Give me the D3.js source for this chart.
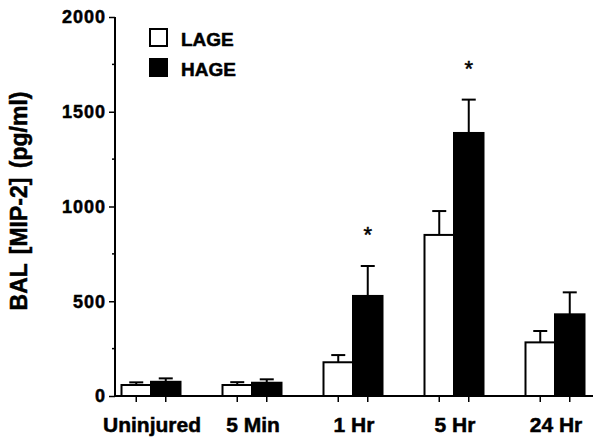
<!DOCTYPE html>
<html lang="en">
	<head>
		<meta charset="utf-8">
		<title>BAL MIP-2</title>
		<script src="https://d3js.org/d3.v7.min.js"></script>
		<style>
			body { margin: 0; background: #fff; }
			text { font-family: "Liberation Sans", Arial, sans-serif; font-weight: bold; fill: #000; stroke: #000; stroke-width: 0.5px; }
		</style>
	</head>

	<body>

	<script>

// data

	var groups = ["Uninjured", "5 Min", "1 Hr", "5 Hr", "24 Hr"];
	var series = ["LAGE", "HAGE"];
	var lageMean = [58, 58, 178, 850, 283];
	var lageErr = [14, 15, 38, 126, 60];
	var hageMean = [75, 70, 528, 1388, 431];
	var hageErr = [18, 18, 158, 176, 116];
	var hageStar = [false, false, true, true, false];
	var yTicks = [0, 500, 1000, 1500, 2000];
	var yMinor = [250, 750, 1250, 1750];

	var width = 604, height = 447;

	var svg = d3.select("body")
		.append("svg")
			.attr("width", width)
			.attr("height", height);

	var x = d3.scaleBand()
		.domain(groups)
		.range([100.5, 605.5]);

	var xs = d3.scaleBand()
		.domain(series)
		.range([0, 59]);

	var y = d3.scaleLinear()
		.domain([0, 2000])
		.range([396, 17]);

	// rows for bars
	var rows = [];
	groups.forEach(function (g, i) {
		rows.push({g: g, s: "LAGE", v: lageMean[i], e: lageErr[i], star: false});
		rows.push({g: g, s: "HAGE", v: hageMean[i], e: hageErr[i], star: hageStar[i]});
	});

	var left = d => x(d.g) + x.bandwidth() / 2 - 29.5 + xs(d.s);
	var mid = d => left(d) + xs.bandwidth() / 2;

	// error bars (drawn first, bar covers the lower part)
	svg.selectAll("line.err")
		.data(rows)
		.enter()
		.append("line")
			.attr("class", "err")
			.attr("x1", mid)
			.attr("x2", mid)
			.attr("y1", d => y(d.v))
			.attr("y2", d => y(d.v + d.e))
			.attr("stroke", "#000")
			.attr("stroke-width", 2);

	svg.selectAll("line.cap")
		.data(rows)
		.enter()
		.append("line")
			.attr("class", "cap")
			.attr("x1", d => mid(d) - 7)
			.attr("x2", d => mid(d) + 7)
			.attr("y1", d => y(d.v + d.e))
			.attr("y2", d => y(d.v + d.e))
			.attr("stroke", "#000")
			.attr("stroke-width", 2);

	svg.selectAll("rect.bar")
		.data(rows)
		.enter()
		.append("rect")
			.attr("class", "bar")
			.attr("x", left)
			.attr("y", d => y(d.v))
			.attr("width", xs.bandwidth())
			.attr("height", d => y(0) - y(d.v))
			.attr("fill", d => d.s === "LAGE" ? "#fff" : "#000")
			.attr("stroke", "#000")
			.attr("stroke-width", 2);

	// significance marks
	svg.selectAll("text.star")
		.data(rows.filter(d => d.star))
		.enter()
		.append("text")
			.attr("class", "star")
			.attr("x", mid)
			.attr("y", d => y(d.v + d.e) - 24)
			.attr("text-anchor", "middle")
			.style("font-weight", "normal")
			.style("font-size", "22px")
			.text("*");

	// y axis
	var yAxis = svg.append("g")
		.attr("transform", "translate(115,0)")
		.call(d3.axisLeft(y).tickValues(yTicks).tickSize(6).tickPadding(3).tickFormat(d3.format("d")));

	yAxis.append("g")
		.selectAll("line")
		.data(yMinor)
		.enter()
		.append("line")
			.attr("x1", -3)
			.attr("x2", 0)
			.attr("y1", d => y(d))
			.attr("y2", d => y(d))
			.attr("stroke", "#000")
			.attr("stroke-width", 1.5);

	yAxis.select(".domain").remove();
	yAxis.append("line")
		.attr("x1", 0).attr("x2", 0)
		.attr("y1", y(2000)).attr("y2", y(0) + 1)
		.attr("stroke", "#000")
		.attr("stroke-width", 2);
	yAxis.selectAll(".tick line").attr("stroke-width", 1.5);
	yAxis.selectAll(".tick text")
		.style("font-size", "18px")
		.style("letter-spacing", "1px");

	// x axis
	svg.append("line")
		.attr("x1", 114).attr("x2", 593)
		.attr("y1", y(0)).attr("y2", y(0))
		.attr("stroke", "#000")
		.attr("stroke-width", 2);

	svg.selectAll("line.xtick")
		.data(rows)
		.enter()
		.append("line")
			.attr("class", "xtick")
			.attr("x1", mid)
			.attr("x2", mid)
			.attr("y1", y(0))
			.attr("y2", y(0) + 6)
			.attr("stroke", "#000")
			.attr("stroke-width", 1.5);

	svg.selectAll("text.xlab")
		.data(groups)
		.enter()
		.append("text")
			.attr("class", "xlab")
			.attr("x", d => x(d) + x.bandwidth() / 2 + 1)
			.attr("y", 432)
			.attr("text-anchor", "middle")
			.style("font-size", "21px")
			.text(d => d);

	// y title
	svg.append("text")
		.attr("transform", "translate(27,201) rotate(-90)")
		.attr("text-anchor", "middle")
		.style("font-size", "23px")
		.style("word-spacing", "3px")
		.text("BAL [MIP-2] (pg/ml)");

	// legend
	var legend = svg.selectAll("g.legend")
		.data(series)
		.enter()
		.append("g")
			.attr("class", "legend")
			.attr("transform", (d, i) => "translate(150," + (29 + i * 30) + ")");

	legend.append("rect")
		.attr("width", 17)
		.attr("height", 17)
		.attr("fill", d => d === "LAGE" ? "#fff" : "#000")
		.attr("stroke", "#000")
		.attr("stroke-width", 2);

	legend.append("text")
		.attr("x", 31)
		.attr("y", 17)
		.style("font-size", "19px")
		.text(d => d);

	</script>

	</body>

</html>
